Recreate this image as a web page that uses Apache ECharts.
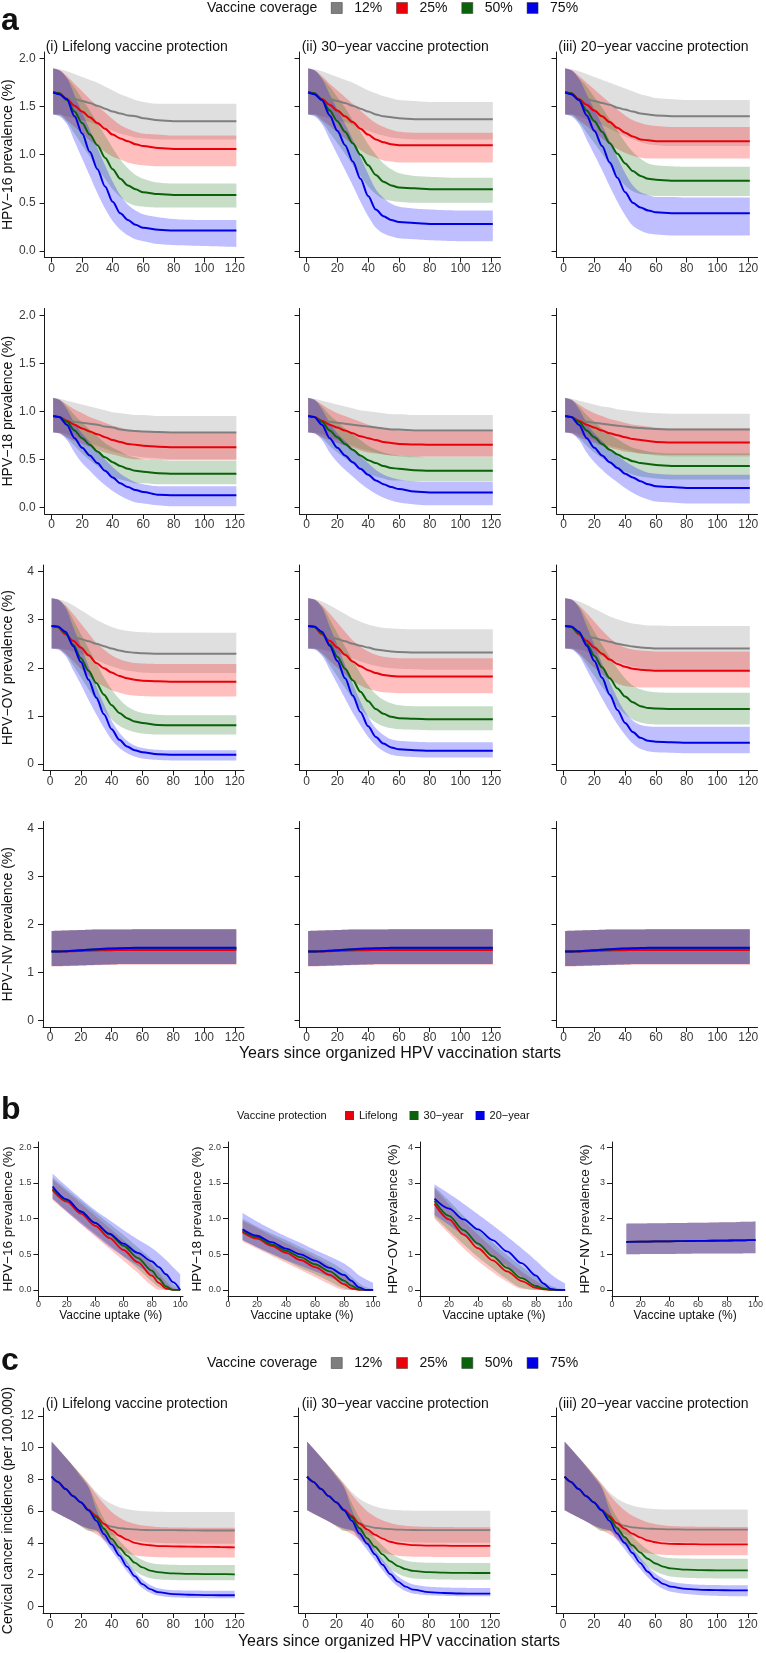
<!DOCTYPE html>
<html><head><meta charset="utf-8">
<script src="https://cdn.jsdelivr.net/npm/echarts@6/dist/echarts.min.js"></script>
<style>html,body{margin:0;padding:0;background:#fff}#c{width:766px;height:1653px}</style>
</head><body><div id="c"></div><script>
const FONT = "'Liberation Sans', Arial, Helvetica, sans-serif";
// ---------- categories / ticks ----------
const AX = [1,5,10,15,20,25,30,35,40,45,50,55,60,70,80,100,121];
const BX = [10,20,30,40,50,60,70,80,85,90,95,100];
const CX = [1,5,10,15,20,25,30,35,40,45,50,55,60,65,70,80,90,100,110,120];
const A_XTICKS = [0,20,40,60,80,100,120];
const B_XTICKS = [0,20,40,60,80,100];
const Y2_TICKS = [0,0.5,1,1.5,2];
const Y4_TICKS = [0,1,2,3,4];
const C_YTICKS = [0,2,4,6,8,10,12];
const COVERAGE = ['12%','25%','50%','75%'];
const PROTECTION = ['Lifelong','30\u2212year','20\u2212year'];
const PANEL_TITLES = ['(i) Lifelong vaccine protection','(ii) 30\u2212year vaccine protection','(iii) 20\u2212year vaccine protection'];
const ROW_TITLES = ['HPV\u221216 prevalence (%)','HPV\u221218 prevalence (%)','HPV\u2212OV prevalence (%)','HPV\u2212NV prevalence (%)'];

// ---------- HPV-16 (gray, red, green, blue) ----------
const hpv16_life_mid = [
 [1.65,1.63,1.60,1.58,1.56,1.54,1.51,1.48,1.45,1.43,1.41,1.40,1.38,1.36,1.35,1.35,1.35],
 [1.65,1.64,1.58,1.51,1.45,1.39,1.33,1.27,1.21,1.17,1.14,1.11,1.09,1.07,1.06,1.06,1.06],
 [1.65,1.64,1.57,1.45,1.33,1.21,1.10,0.97,0.85,0.75,0.68,0.64,0.61,0.59,0.58,0.58,0.58],
 [1.65,1.63,1.58,1.40,1.22,1.03,0.85,0.67,0.51,0.39,0.32,0.27,0.24,0.22,0.21,0.21,0.21]];
const hpv16_life_hi = [
 [1.90,1.89,1.87,1.84,1.81,1.78,1.75,1.71,1.67,1.63,1.60,1.57,1.55,1.53,1.53,1.53,1.53],
 [1.90,1.88,1.82,1.74,1.66,1.58,1.51,1.44,1.37,1.31,1.27,1.24,1.22,1.21,1.20,1.20,1.20],
 [1.90,1.88,1.80,1.70,1.58,1.46,1.33,1.20,1.07,0.95,0.86,0.79,0.75,0.71,0.70,0.70,0.70],
 [1.90,1.88,1.80,1.62,1.44,1.26,1.07,0.89,0.72,0.58,0.48,0.42,0.38,0.35,0.33,0.32,0.32]];
const hpv16_life_lo = [
 [1.42,1.42,1.40,1.38,1.36,1.34,1.31,1.28,1.25,1.22,1.20,1.18,1.17,1.16,1.16,1.16,1.16],
 [1.42,1.42,1.36,1.29,1.22,1.15,1.09,1.03,0.98,0.95,0.92,0.90,0.89,0.88,0.88,0.88,0.88],
 [1.42,1.41,1.34,1.22,1.10,0.98,0.86,0.75,0.64,0.56,0.50,0.47,0.46,0.45,0.45,0.45,0.45],
 [1.42,1.40,1.32,1.14,0.96,0.78,0.60,0.44,0.31,0.22,0.16,0.12,0.10,0.07,0.06,0.05,0.04]];
const hpv16_30_mid = [
 [1.65,1.63,1.60,1.58,1.56,1.54,1.51,1.48,1.45,1.42,1.40,1.39,1.38,1.37,1.37,1.37,1.37],
 [1.65,1.64,1.58,1.52,1.46,1.40,1.34,1.27,1.21,1.16,1.13,1.11,1.10,1.10,1.10,1.10,1.10],
 [1.65,1.64,1.57,1.46,1.35,1.24,1.12,1.00,0.89,0.79,0.72,0.68,0.66,0.65,0.64,0.64,0.64],
 [1.65,1.63,1.57,1.41,1.25,1.10,0.93,0.75,0.57,0.43,0.36,0.32,0.30,0.29,0.28,0.28,0.28]];
const hpv16_30_hi = [
 [1.90,1.89,1.87,1.84,1.81,1.78,1.75,1.71,1.67,1.64,1.61,1.59,1.57,1.56,1.55,1.55,1.55],
 [1.90,1.88,1.82,1.74,1.67,1.60,1.53,1.46,1.39,1.33,1.29,1.26,1.24,1.23,1.23,1.23,1.23],
 [1.90,1.88,1.80,1.71,1.60,1.49,1.36,1.24,1.11,1.00,0.91,0.85,0.81,0.78,0.77,0.76,0.76],
 [1.90,1.88,1.79,1.63,1.47,1.32,1.16,0.98,0.80,0.64,0.55,0.49,0.46,0.44,0.43,0.42,0.42]];
const hpv16_30_lo = [
 [1.42,1.42,1.40,1.38,1.36,1.34,1.31,1.28,1.25,1.22,1.20,1.18,1.17,1.16,1.16,1.16,1.16],
 [1.42,1.42,1.36,1.30,1.23,1.17,1.11,1.05,1.00,0.97,0.94,0.93,0.92,0.92,0.92,0.92,0.92],
 [1.42,1.41,1.34,1.23,1.12,1.01,0.89,0.78,0.67,0.59,0.54,0.52,0.51,0.50,0.50,0.50,0.50],
 [1.42,1.40,1.32,1.16,1.00,0.84,0.68,0.51,0.36,0.24,0.18,0.15,0.13,0.12,0.11,0.10,0.10]];
const hpv16_20_mid = [
 [1.65,1.63,1.60,1.58,1.56,1.54,1.52,1.49,1.47,1.45,1.43,1.42,1.41,1.40,1.40,1.40,1.40],
 [1.65,1.64,1.58,1.52,1.46,1.40,1.34,1.28,1.23,1.19,1.16,1.15,1.14,1.14,1.14,1.14,1.14],
 [1.65,1.64,1.57,1.46,1.35,1.24,1.12,1.01,0.91,0.83,0.78,0.75,0.74,0.73,0.73,0.73,0.73],
 [1.65,1.63,1.57,1.41,1.25,1.09,0.92,0.76,0.61,0.50,0.45,0.42,0.40,0.39,0.39,0.39,0.39]];
const hpv16_20_hi = [
 [1.90,1.89,1.87,1.84,1.81,1.78,1.75,1.72,1.69,1.66,1.63,1.61,1.59,1.58,1.57,1.57,1.57],
 [1.90,1.88,1.82,1.75,1.68,1.61,1.54,1.47,1.41,1.36,1.33,1.31,1.30,1.29,1.29,1.29,1.29],
 [1.90,1.88,1.80,1.71,1.60,1.49,1.37,1.25,1.13,1.03,0.96,0.91,0.89,0.88,0.875,0.875,0.875],
 [1.90,1.88,1.79,1.63,1.47,1.31,1.14,0.97,0.81,0.68,0.61,0.58,0.56,0.56,0.555,0.555,0.555]];
const hpv16_20_lo = [
 [1.42,1.42,1.40,1.37,1.34,1.31,1.27,1.23,1.19,1.16,1.13,1.11,1.10,1.09,1.09,1.09,1.09],
 [1.42,1.42,1.36,1.30,1.23,1.17,1.11,1.06,1.02,0.99,0.97,0.96,0.96,0.96,0.96,0.96,0.96],
 [1.42,1.41,1.34,1.23,1.12,1.01,0.89,0.78,0.68,0.62,0.59,0.58,0.57,0.57,0.57,0.57,0.57],
 [1.42,1.40,1.32,1.16,1.00,0.84,0.67,0.51,0.37,0.26,0.21,0.18,0.17,0.16,0.16,0.16,0.16]];

// ---------- HPV-18 ----------
const hpv18_life_mid = [
 [0.95,0.94,0.91,0.89,0.88,0.87,0.86,0.84,0.83,0.81,0.80,0.795,0.79,0.785,0.78,0.78,0.78],
 [0.95,0.94,0.90,0.86,0.82,0.79,0.76,0.73,0.70,0.68,0.66,0.65,0.64,0.63,0.625,0.625,0.625],
 [0.95,0.94,0.89,0.80,0.72,0.65,0.58,0.52,0.47,0.43,0.40,0.38,0.37,0.355,0.35,0.35,0.35],
 [0.95,0.94,0.86,0.72,0.62,0.54,0.46,0.38,0.31,0.25,0.21,0.18,0.16,0.13,0.125,0.125,0.125]];
const hpv18_life_hi = [
 [1.14,1.13,1.11,1.09,1.07,1.05,1.03,1.01,0.99,0.98,0.97,0.96,0.96,0.95,0.95,0.95,0.95],
 [1.14,1.12,1.07,1.02,0.98,0.94,0.91,0.88,0.85,0.83,0.81,0.80,0.79,0.78,0.77,0.77,0.77],
 [1.14,1.12,1.05,0.96,0.88,0.81,0.74,0.67,0.62,0.58,0.54,0.52,0.50,0.49,0.485,0.485,0.485],
 [1.14,1.12,1.02,0.88,0.77,0.68,0.59,0.50,0.42,0.35,0.30,0.26,0.24,0.22,0.22,0.22,0.22]];
const hpv18_life_lo = [
 [0.78,0.78,0.76,0.73,0.70,0.67,0.64,0.61,0.58,0.56,0.54,0.53,0.52,0.51,0.50,0.50,0.50],
 [0.78,0.77,0.73,0.69,0.66,0.63,0.60,0.57,0.55,0.53,0.51,0.50,0.50,0.49,0.49,0.49,0.49],
 [0.78,0.77,0.72,0.64,0.56,0.49,0.43,0.37,0.32,0.29,0.27,0.25,0.25,0.24,0.24,0.24,0.24],
 [0.78,0.77,0.70,0.57,0.46,0.38,0.30,0.23,0.17,0.12,0.08,0.05,0.04,0.02,0.01,0.01,0.01]];
const hpv18_30_mid = [
 [0.95,0.94,0.91,0.89,0.88,0.87,0.86,0.85,0.84,0.83,0.82,0.81,0.81,0.80,0.80,0.80,0.80],
 [0.95,0.94,0.90,0.86,0.83,0.80,0.77,0.74,0.72,0.70,0.68,0.67,0.66,0.655,0.65,0.65,0.65],
 [0.95,0.94,0.89,0.80,0.73,0.66,0.60,0.54,0.49,0.46,0.43,0.41,0.40,0.385,0.38,0.38,0.38],
 [0.95,0.94,0.86,0.72,0.62,0.54,0.47,0.40,0.34,0.28,0.24,0.21,0.19,0.165,0.155,0.155,0.155]];
const hpv18_30_hi = [
 [1.14,1.13,1.11,1.09,1.07,1.05,1.03,1.01,1.00,0.99,0.98,0.97,0.97,0.96,0.96,0.96,0.96],
 [1.14,1.12,1.07,1.02,0.98,0.95,0.92,0.89,0.86,0.84,0.82,0.81,0.80,0.79,0.79,0.79,0.79],
 [1.14,1.12,1.05,0.96,0.89,0.82,0.76,0.70,0.64,0.60,0.57,0.55,0.54,0.53,0.52,0.52,0.52],
 [1.14,1.12,1.02,0.88,0.77,0.69,0.61,0.53,0.46,0.39,0.34,0.31,0.29,0.27,0.265,0.265,0.265]];
const hpv18_30_lo = [
 [0.78,0.78,0.76,0.73,0.70,0.67,0.64,0.61,0.59,0.57,0.55,0.54,0.53,0.52,0.52,0.52,0.52],
 [0.78,0.77,0.73,0.70,0.67,0.64,0.62,0.59,0.57,0.56,0.55,0.54,0.54,0.53,0.53,0.53,0.53],
 [0.78,0.77,0.72,0.64,0.57,0.51,0.45,0.40,0.35,0.32,0.30,0.28,0.28,0.27,0.27,0.27,0.27],
 [0.78,0.77,0.70,0.57,0.47,0.39,0.32,0.25,0.19,0.14,0.10,0.07,0.05,0.03,0.02,0.02,0.02]];
const hpv18_20_mid = [
 [0.95,0.94,0.91,0.89,0.88,0.87,0.86,0.85,0.84,0.83,0.825,0.82,0.815,0.81,0.81,0.81,0.81],
 [0.95,0.94,0.90,0.86,0.83,0.80,0.77,0.75,0.73,0.71,0.70,0.69,0.68,0.675,0.675,0.675,0.675],
 [0.95,0.94,0.89,0.80,0.73,0.66,0.60,0.55,0.51,0.48,0.46,0.45,0.44,0.43,0.43,0.43,0.43],
 [0.95,0.94,0.86,0.72,0.62,0.54,0.47,0.41,0.35,0.31,0.27,0.24,0.22,0.21,0.20,0.20,0.20]];
const hpv18_20_hi = [
 [1.14,1.13,1.11,1.09,1.07,1.05,1.04,1.02,1.01,1.00,0.99,0.985,0.98,0.975,0.975,0.975,0.975],
 [1.14,1.12,1.07,1.02,0.98,0.95,0.92,0.90,0.88,0.86,0.85,0.84,0.83,0.82,0.82,0.82,0.82],
 [1.14,1.12,1.05,0.96,0.89,0.82,0.76,0.71,0.66,0.62,0.60,0.58,0.57,0.56,0.56,0.56,0.56],
 [1.14,1.12,1.02,0.88,0.77,0.69,0.61,0.54,0.48,0.43,0.39,0.36,0.35,0.34,0.34,0.34,0.34]];
const hpv18_20_lo = [
 [0.78,0.78,0.76,0.73,0.70,0.67,0.64,0.62,0.60,0.58,0.56,0.55,0.54,0.53,0.53,0.53,0.53],
 [0.78,0.77,0.73,0.70,0.67,0.64,0.62,0.60,0.58,0.57,0.56,0.555,0.55,0.545,0.545,0.545,0.545],
 [0.78,0.77,0.72,0.64,0.57,0.51,0.46,0.41,0.37,0.34,0.32,0.31,0.30,0.29,0.29,0.29,0.29],
 [0.78,0.77,0.70,0.57,0.47,0.39,0.32,0.26,0.20,0.15,0.11,0.08,0.06,0.05,0.04,0.04,0.04]];

// ---------- HPV-OV ----------
const hpvov_life_mid = [
 [2.87,2.82,2.72,2.65,2.60,2.55,2.50,2.45,2.40,2.36,2.33,2.31,2.30,2.29,2.29,2.29,2.29],
 [2.87,2.85,2.70,2.56,2.42,2.26,2.10,1.99,1.90,1.83,1.78,1.75,1.73,1.72,1.71,1.71,1.71],
 [2.87,2.85,2.72,2.48,2.20,1.94,1.68,1.44,1.22,1.06,0.95,0.88,0.85,0.81,0.80,0.80,0.80],
 [2.87,2.86,2.75,2.45,2.12,1.75,1.38,1.03,0.72,0.50,0.36,0.28,0.24,0.20,0.19,0.19,0.19]];
const hpvov_life_hi = [
 [3.45,3.43,3.38,3.30,3.20,3.10,3.00,2.92,2.85,2.80,2.77,2.75,2.74,2.73,2.73,2.73,2.73],
 [3.45,3.42,3.30,3.12,2.92,2.72,2.52,2.38,2.26,2.18,2.13,2.10,2.09,2.08,2.08,2.08,2.08],
 [3.45,3.42,3.28,3.00,2.70,2.40,2.10,1.80,1.55,1.35,1.20,1.11,1.06,1.02,1.01,1.01,1.01],
 [3.45,3.42,3.25,2.85,2.45,2.03,1.62,1.24,0.90,0.65,0.48,0.38,0.33,0.29,0.28,0.28,0.28]];
const hpvov_life_lo = [
 [2.40,2.40,2.38,2.34,2.29,2.23,2.16,2.09,2.03,1.98,1.94,1.92,1.90,1.89,1.89,1.89,1.89],
 [2.40,2.40,2.30,2.14,1.98,1.84,1.70,1.61,1.53,1.48,1.44,1.42,1.41,1.40,1.40,1.40,1.40],
 [2.40,2.39,2.28,2.05,1.80,1.55,1.32,1.10,0.92,0.79,0.71,0.66,0.63,0.61,0.61,0.61,0.61],
 [2.40,2.38,2.25,1.95,1.65,1.33,1.03,0.75,0.50,0.33,0.22,0.15,0.11,0.08,0.07,0.07,0.07]];
const hpvov_30_mid = [
 [2.87,2.82,2.72,2.65,2.60,2.55,2.50,2.46,2.42,2.38,2.36,2.34,2.33,2.32,2.32,2.32,2.32],
 [2.87,2.85,2.70,2.56,2.42,2.27,2.13,2.03,1.95,1.89,1.85,1.83,1.82,1.82,1.82,1.82,1.82],
 [2.87,2.85,2.72,2.49,2.23,1.98,1.74,1.50,1.30,1.14,1.04,0.98,0.95,0.94,0.93,0.93,0.93],
 [2.87,2.86,2.75,2.46,2.14,1.78,1.42,1.08,0.78,0.56,0.42,0.34,0.30,0.28,0.27,0.27,0.27]];
const hpvov_30_hi = [
 [3.45,3.43,3.38,3.30,3.21,3.12,3.03,2.96,2.90,2.86,2.83,2.82,2.81,2.80,2.80,2.80,2.80],
 [3.45,3.42,3.30,3.13,2.94,2.75,2.57,2.44,2.34,2.27,2.23,2.21,2.20,2.20,2.20,2.20,2.20],
 [3.45,3.42,3.28,3.01,2.72,2.44,2.16,1.88,1.64,1.45,1.33,1.26,1.22,1.20,1.20,1.20,1.20],
 [3.45,3.42,3.25,2.86,2.47,2.06,1.67,1.30,0.98,0.74,0.60,0.51,0.48,0.46,0.45,0.45,0.45]];
const hpvov_30_lo = [
 [2.40,2.40,2.38,2.34,2.30,2.25,2.19,2.13,2.08,2.04,2.01,1.99,1.98,1.97,1.96,1.96,1.96],
 [2.40,2.40,2.30,2.15,2.00,1.86,1.73,1.63,1.56,1.52,1.49,1.48,1.47,1.47,1.47,1.47,1.47],
 [2.40,2.39,2.28,2.06,1.82,1.58,1.36,1.15,0.98,0.86,0.78,0.74,0.72,0.71,0.70,0.70,0.70],
 [2.40,2.38,2.25,1.96,1.66,1.36,1.06,0.80,0.56,0.38,0.26,0.19,0.16,0.14,0.13,0.13,0.13]];
const hpvov_20_mid = [
 [2.87,2.82,2.72,2.66,2.62,2.58,2.54,2.50,2.47,2.44,2.42,2.41,2.40,2.40,2.40,2.40,2.40],
 [2.87,2.85,2.70,2.56,2.42,2.29,2.17,2.08,2.02,1.98,1.96,1.95,1.94,1.94,1.94,1.94,1.94],
 [2.87,2.85,2.72,2.50,2.25,2.01,1.78,1.57,1.40,1.28,1.20,1.16,1.15,1.14,1.14,1.14,1.14],
 [2.87,2.86,2.75,2.46,2.14,1.79,1.44,1.12,0.85,0.66,0.54,0.48,0.46,0.45,0.44,0.44,0.44]];
const hpvov_20_hi = [
 [3.45,3.43,3.38,3.31,3.23,3.15,3.07,3.01,2.96,2.92,2.90,2.88,2.88,2.87,2.87,2.87,2.87],
 [3.45,3.42,3.30,3.14,2.96,2.78,2.62,2.50,2.42,2.38,2.36,2.35,2.34,2.34,2.34,2.34,2.34],
 [3.45,3.42,3.28,3.02,2.75,2.48,2.22,1.98,1.78,1.63,1.55,1.51,1.49,1.48,1.48,1.48,1.48],
 [3.45,3.42,3.25,2.87,2.48,2.09,1.71,1.36,1.08,0.90,0.81,0.78,0.77,0.77,0.77,0.77,0.77]];
const hpvov_20_lo = [
 [2.40,2.40,2.38,2.34,2.29,2.24,2.18,2.12,2.07,2.02,1.99,1.97,1.96,1.95,1.95,1.95,1.95],
 [2.40,2.40,2.30,2.15,2.00,1.87,1.75,1.67,1.62,1.60,1.59,1.59,1.59,1.59,1.59,1.59,1.59],
 [2.40,2.39,2.28,2.06,1.83,1.60,1.39,1.19,1.03,0.92,0.86,0.83,0.82,0.82,0.82,0.82,0.82],
 [2.40,2.38,2.25,1.96,1.66,1.36,1.08,0.82,0.60,0.42,0.31,0.26,0.24,0.23,0.22,0.22,0.22]];

// ---------- HPV-NV (same in the three panels) ----------
const hpvnv_mid = [
 [1.43,1.43,1.44,1.45,1.46,1.47,1.475,1.48,1.485,1.49,1.49,1.49,1.49,1.49,1.49,1.49,1.49],
 [1.43,1.43,1.435,1.44,1.445,1.45,1.455,1.46,1.46,1.465,1.465,1.465,1.465,1.465,1.465,1.465,1.465],
 [1.43,1.43,1.44,1.45,1.46,1.47,1.475,1.48,1.49,1.495,1.50,1.50,1.50,1.50,1.50,1.50,1.50],
 [1.43,1.43,1.44,1.45,1.46,1.47,1.48,1.49,1.495,1.50,1.505,1.51,1.51,1.51,1.51,1.51,1.51]];
const hpvnv_hi = [
 [1.86,1.865,1.87,1.875,1.88,1.885,1.89,1.89,1.89,1.89,1.89,1.895,1.895,1.895,1.895,1.895,1.895],
 [1.86,1.865,1.87,1.875,1.88,1.885,1.89,1.89,1.89,1.89,1.89,1.895,1.895,1.895,1.895,1.895,1.895],
 [1.86,1.865,1.87,1.875,1.88,1.885,1.89,1.89,1.89,1.89,1.89,1.895,1.895,1.895,1.895,1.895,1.895],
 [1.86,1.865,1.87,1.875,1.88,1.885,1.89,1.89,1.89,1.89,1.89,1.895,1.895,1.895,1.895,1.895,1.895]];
const hpvnv_lo = [
 [1.13,1.13,1.135,1.14,1.145,1.15,1.155,1.16,1.165,1.17,1.17,1.17,1.17,1.17,1.17,1.17,1.17],
 [1.12,1.12,1.125,1.13,1.135,1.14,1.145,1.15,1.15,1.155,1.155,1.155,1.155,1.155,1.155,1.155,1.155],
 [1.13,1.13,1.135,1.14,1.145,1.15,1.155,1.16,1.165,1.17,1.17,1.17,1.17,1.17,1.17,1.17,1.17],
 [1.13,1.13,1.135,1.14,1.145,1.15,1.155,1.16,1.165,1.17,1.17,1.17,1.17,1.17,1.17,1.17,1.17]];

// ---------- section b (Lifelong, 30-year, 20-year) vs uptake ----------
const b16_mid = [
 [1.40,1.24,1.07,0.90,0.73,0.56,0.39,0.20,0.10,0.02,0,0],
 [1.42,1.26,1.10,0.94,0.78,0.62,0.45,0.27,0.16,0.05,0,0],
 [1.45,1.27,1.10,0.94,0.79,0.65,0.52,0.40,0.32,0.22,0.11,0]];
const b16_hi = [
 [1.55,1.38,1.21,1.04,0.87,0.70,0.53,0.35,0.24,0.12,0.03,0],
 [1.58,1.41,1.25,1.09,0.93,0.77,0.60,0.43,0.33,0.21,0.08,0.02],
 [1.63,1.45,1.28,1.12,0.98,0.84,0.71,0.59,0.51,0.42,0.32,0.22]];
const b16_lo = [
 [1.26,1.09,0.92,0.75,0.58,0.41,0.24,0.06,0,0,0,0],
 [1.28,1.11,0.95,0.79,0.63,0.47,0.30,0.12,0.04,0,0,0],
 [1.28,1.10,0.93,0.77,0.61,0.47,0.34,0.21,0.13,0.04,0,0]];
const b18_mid = [
 [0.81,0.72,0.62,0.52,0.42,0.32,0.21,0.08,0.02,0,0,0],
 [0.83,0.74,0.64,0.55,0.46,0.36,0.26,0.13,0.06,0.01,0,0],
 [0.85,0.76,0.67,0.58,0.50,0.41,0.31,0.21,0.13,0.04,0,0]];
const b18_hi = [
 [0.97,0.87,0.76,0.66,0.56,0.46,0.34,0.20,0.12,0.04,0,0],
 [1.00,0.89,0.79,0.70,0.60,0.50,0.40,0.27,0.19,0.10,0.04,0.01],
 [1.08,0.96,0.85,0.75,0.66,0.56,0.47,0.37,0.30,0.21,0.15,0.10]];
const b18_lo = [
 [0.68,0.58,0.48,0.38,0.28,0.18,0.08,0,0,0,0,0],
 [0.70,0.60,0.50,0.41,0.31,0.22,0.12,0.02,0,0,0,0],
 [0.70,0.60,0.51,0.42,0.34,0.26,0.18,0.08,0.02,0,0,0]];
const bov_mid = [
 [2.42,1.98,1.55,1.17,0.83,0.52,0.25,0.06,0.02,0,0,0],
 [2.50,2.08,1.68,1.30,0.95,0.62,0.33,0.11,0.04,0,0,0],
 [2.56,2.28,1.98,1.70,1.40,1.08,0.75,0.40,0.18,0.03,0,0]];
const bov_hi = [
 [2.85,2.40,1.95,1.55,1.18,0.84,0.52,0.25,0.13,0.04,0,0],
 [2.90,2.50,2.08,1.70,1.33,0.98,0.66,0.36,0.23,0.12,0.05,0.02],
 [2.96,2.70,2.42,2.12,1.82,1.50,1.17,0.82,0.63,0.45,0.30,0.18]];
const bov_lo = [
 [2.00,1.58,1.17,0.81,0.50,0.23,0.03,0,0,0,0,0],
 [2.05,1.66,1.28,0.92,0.60,0.30,0.06,0,0,0,0,0],
 [2.10,1.82,1.53,1.24,0.96,0.66,0.36,0.06,0,0,0,0]];
const bnv_mid = [
 [1.35,1.355,1.36,1.365,1.37,1.375,1.38,1.385,1.39,1.39,1.395,1.40],
 [1.35,1.355,1.36,1.365,1.37,1.375,1.38,1.385,1.39,1.39,1.395,1.40],
 [1.35,1.355,1.36,1.365,1.37,1.375,1.38,1.385,1.39,1.39,1.395,1.40]];
const bnv_hi = [
 [1.86,1.865,1.87,1.875,1.88,1.885,1.89,1.90,1.90,1.91,1.91,1.92],
 [1.86,1.865,1.87,1.875,1.88,1.885,1.89,1.90,1.90,1.91,1.91,1.92],
 [1.86,1.865,1.87,1.875,1.88,1.885,1.89,1.90,1.90,1.91,1.91,1.92]];
const bnv_lo = [
 [1.00,1.005,1.01,1.01,1.015,1.02,1.02,1.02,1.025,1.025,1.03,1.03],
 [1.00,1.005,1.01,1.01,1.015,1.02,1.02,1.02,1.025,1.025,1.03,1.03],
 [1.00,1.005,1.01,1.01,1.015,1.02,1.02,1.02,1.025,1.025,1.03,1.03]];

// ---------- section c: cervical cancer incidence ----------
const cc_life_mid = [
 [8.17,7.85,7.40,6.95,6.55,6.05,5.55,5.20,5.02,4.93,4.88,4.85,4.82,4.80,4.80,4.80,4.79,4.78,4.78,4.78],
 [8.17,7.85,7.40,6.95,6.55,6.10,5.70,5.20,4.80,4.45,4.20,4.00,3.90,3.85,3.80,3.78,3.76,3.75,3.74,3.72],
 [8.17,7.85,7.40,6.95,6.55,6.05,5.60,4.90,4.25,3.70,3.20,2.75,2.45,2.25,2.15,2.08,2.05,2.03,2.03,2.02],
 [8.17,7.85,7.40,6.95,6.55,6.05,5.40,4.55,3.90,3.20,2.50,1.90,1.40,1.08,0.90,0.77,0.73,0.71,0.70,0.70]];
const cc_life_hi = [
 [10.38,9.95,9.40,8.85,8.30,7.75,7.20,6.75,6.45,6.25,6.12,6.05,6.00,5.98,5.96,5.95,5.95,5.95,5.95,5.95],
 [10.38,9.95,9.40,8.85,8.30,7.70,7.05,6.45,5.95,5.60,5.35,5.20,5.10,5.05,5.00,4.97,4.96,4.95,4.95,4.95],
 [10.38,9.95,9.40,8.85,8.25,7.55,6.50,5.50,4.75,4.15,3.65,3.20,2.92,2.74,2.66,2.62,2.60,2.60,2.60,2.60],
 [10.38,9.95,9.40,8.80,8.15,7.50,6.10,4.95,4.20,3.50,2.82,2.20,1.70,1.35,1.15,1.02,1.00,0.99,0.99,0.99]];
const cc_life_lo = [
 [6.06,5.85,5.60,5.35,5.10,4.92,4.80,4.65,4.50,4.38,4.25,4.15,4.08,4.03,4.00,3.97,3.96,3.95,3.95,3.95],
 [6.06,5.85,5.60,5.35,5.05,4.80,4.55,4.20,3.85,3.55,3.35,3.22,3.15,3.12,3.10,3.08,3.07,3.07,3.07,3.07],
 [6.06,5.85,5.60,5.35,5.05,4.75,4.72,4.30,3.70,3.15,2.65,2.22,1.95,1.78,1.70,1.66,1.64,1.64,1.64,1.64],
 [6.06,5.85,5.60,5.35,5.10,4.90,4.80,4.15,3.50,2.85,2.20,1.62,1.15,0.85,0.68,0.57,0.53,0.52,0.51,0.51]];
const cc_30_mid = [
 [8.17,7.85,7.40,6.95,6.55,6.05,5.55,5.22,5.05,4.95,4.90,4.87,4.84,4.82,4.81,4.80,4.80,4.80,4.80,4.80],
 [8.17,7.85,7.40,6.95,6.55,6.10,5.70,5.22,4.85,4.52,4.27,4.07,3.96,3.90,3.86,3.83,3.82,3.81,3.81,3.81],
 [8.17,7.85,7.40,6.95,6.55,6.05,5.60,4.92,4.30,3.76,3.28,2.84,2.54,2.34,2.23,2.15,2.12,2.11,2.10,2.10],
 [8.17,7.85,7.40,6.95,6.55,6.05,5.40,4.58,3.95,3.28,2.62,2.03,1.56,1.24,1.05,0.90,0.84,0.81,0.80,0.80]];
const cc_30_hi = [
 [10.38,9.95,9.40,8.85,8.30,7.75,7.20,6.78,6.50,6.30,6.17,6.10,6.06,6.04,6.03,6.02,6.02,6.02,6.02,6.02],
 [10.38,9.95,9.40,8.85,8.30,7.70,7.05,6.48,6.00,5.66,5.42,5.25,5.14,5.08,5.04,5.01,5.00,4.99,4.99,4.99],
 [10.38,9.95,9.40,8.85,8.25,7.55,6.50,5.58,4.88,4.32,3.83,3.38,3.08,2.89,2.80,2.75,2.74,2.73,2.73,2.73],
 [10.38,9.95,9.40,8.80,8.15,7.50,6.10,4.98,4.28,3.60,2.95,2.38,1.90,1.58,1.38,1.24,1.19,1.17,1.16,1.16]];
const cc_30_lo = [
 [6.06,5.85,5.60,5.35,5.10,4.92,4.80,4.66,4.52,4.40,4.28,4.18,4.11,4.06,4.03,4.01,4.00,4.00,4.00,4.00],
 [6.06,5.85,5.60,5.35,5.05,4.80,4.55,4.22,3.88,3.59,3.39,3.26,3.19,3.15,3.13,3.12,3.11,3.11,3.11,3.11],
 [6.06,5.85,5.60,5.35,5.05,4.75,4.75,4.38,3.80,3.28,2.80,2.36,2.06,1.86,1.76,1.71,1.69,1.68,1.68,1.68],
 [6.06,5.85,5.60,5.35,5.10,4.90,4.80,4.18,3.55,2.92,2.28,1.70,1.25,0.96,0.80,0.70,0.66,0.64,0.63,0.63]];
const cc_20_mid = [
 [8.17,7.85,7.40,6.95,6.55,6.05,5.55,5.24,5.08,4.98,4.93,4.90,4.88,4.86,4.85,4.84,4.84,4.84,4.84,4.84],
 [8.17,7.85,7.40,6.95,6.55,6.10,5.70,5.25,4.90,4.58,4.34,4.15,4.04,3.97,3.94,3.92,3.91,3.90,3.90,3.90],
 [8.17,7.85,7.40,6.95,6.55,6.05,5.60,4.95,4.36,3.85,3.40,3.00,2.70,2.50,2.39,2.31,2.28,2.27,2.27,2.27],
 [8.17,7.85,7.40,6.95,6.55,6.05,5.40,4.60,4.00,3.36,2.74,2.18,1.73,1.42,1.24,1.10,1.04,1.02,1.01,1.01]];
const cc_20_hi = [
 [10.38,9.95,9.40,8.85,8.30,7.75,7.20,6.80,6.53,6.35,6.24,6.17,6.13,6.11,6.10,6.10,6.10,6.10,6.10,6.10],
 [10.38,9.95,9.40,8.85,8.30,7.70,7.05,6.50,6.05,5.72,5.48,5.30,5.18,5.11,5.06,5.03,5.02,5.01,5.00,5.00],
 [10.38,9.95,9.40,8.85,8.25,7.55,6.50,5.60,4.95,4.42,3.96,3.56,3.27,3.10,3.04,3.01,3.00,3.00,3.00,3.00],
 [10.38,9.95,9.40,8.80,8.15,7.50,6.10,5.00,4.34,3.70,3.08,2.52,2.07,1.76,1.56,1.42,1.36,1.34,1.33,1.33]];
const cc_20_lo = [
 [6.06,5.85,5.60,5.35,5.10,4.92,4.80,4.67,4.54,4.43,4.32,4.22,4.14,4.09,4.05,4.02,4.01,4.00,4.00,4.00],
 [6.06,5.85,5.60,5.35,5.05,4.80,4.56,4.25,3.93,3.66,3.47,3.35,3.28,3.25,3.23,3.22,3.22,3.22,3.22,3.22],
 [6.06,5.85,5.60,5.35,5.05,4.75,4.75,4.40,3.85,3.36,2.90,2.50,2.20,2.00,1.88,1.80,1.77,1.76,1.75,1.75],
 [6.06,5.85,5.60,5.35,5.10,4.90,4.80,4.20,3.60,2.98,2.38,1.84,1.40,1.10,0.92,0.78,0.70,0.66,0.64,0.63]];

// ---------- styles ----------
const LINE4 = ['#7f7f7f','#e8000b','#0a620a','#0000e6'];
const FILL4 = ['rgba(128,128,128,0.25)','rgba(255,0,0,0.25)','rgba(0,100,0,0.22)','rgba(0,0,255,0.25)'];
const LINE3 = ['#e8000b','#0a620a','#0000e6'];
const FILL3 = ['rgba(255,0,0,0.22)','rgba(0,100,0,0.22)','rgba(0,0,255,0.25)'];
const AXC = '#1a1a1a', LBC = '#3a3a3a', TTC = '#111';

const aRows = [
 [[hpv16_life_mid,hpv16_life_lo,hpv16_life_hi],[hpv16_30_mid,hpv16_30_lo,hpv16_30_hi],[hpv16_20_mid,hpv16_20_lo,hpv16_20_hi]],
 [[hpv18_life_mid,hpv18_life_lo,hpv18_life_hi],[hpv18_30_mid,hpv18_30_lo,hpv18_30_hi],[hpv18_20_mid,hpv18_20_lo,hpv18_20_hi]],
 [[hpvov_life_mid,hpvov_life_lo,hpvov_life_hi],[hpvov_30_mid,hpvov_30_lo,hpvov_30_hi],[hpvov_20_mid,hpvov_20_lo,hpvov_20_hi]],
 [[hpvnv_mid,hpvnv_lo,hpvnv_hi],[hpvnv_mid,hpvnv_lo,hpvnv_hi],[hpvnv_mid,hpvnv_lo,hpvnv_hi]]];
const bPanels = [[b16_mid,b16_lo,b16_hi],[b18_mid,b18_lo,b18_hi],[bov_mid,bov_lo,bov_hi],[bnv_mid,bnv_lo,bnv_hi]];
const cPanels = [[cc_life_mid,cc_life_lo,cc_life_hi],[cc_30_mid,cc_30_lo,cc_30_hi],[cc_20_mid,cc_20_lo,cc_20_hi]];

// ---------- drawing helpers ----------
// monotone cubic (Fritsch-Carlson) through pixel points, sampled into a polyline
function monoSample(p){
  const n=p.length, d=[], h=[], m=new Array(n);
  for(let i=0;i<n-1;i++){ h[i]=p[i+1][0]-p[i][0]; d[i]=h[i]===0?0:(p[i+1][1]-p[i][1])/h[i]; }
  m[0]=d[0]; m[n-1]=d[n-2];
  for(let i=1;i<n-1;i++){
    if(d[i-1]*d[i]<=0) m[i]=0;
    else { const w1=2*h[i]+h[i-1], w2=h[i]+2*h[i-1]; m[i]=(w1+w2)/(w1/d[i-1]+w2/d[i]); }
  }
  const out=[p[0]];
  for(let i=0;i<n-1;i++){
    const x0=p[i][0],y0=p[i][1],x1=p[i+1][0],y1=p[i+1][1],hh=h[i];
    const c1=[x0+hh/3,y0+m[i]*hh/3], c2=[x1-hh/3,y1-m[i+1]*hh/3];
    const S=10;
    for(let s=1;s<=S;s++){
      const t=s/S, u=1-t;
      out.push([u*u*u*x0+3*u*u*t*c1[0]+3*u*t*t*c2[0]+t*t*t*x1, u*u*u*y0+3*u*u*t*c1[1]+3*u*t*t*c2[1]+t*t*t*y1]);
    }
  }
  return out;
}
const grids=[], xAxes=[], yAxes=[], series=[];
function pairs(xs, ys){ return xs.map((x,i)=>[x,ys[i]]); }
function bandSeries(gi, xs, lo, hi, fill, name){
  return {type:'custom',name,xAxisIndex:gi,yAxisIndex:gi,silent:true,z:1,clip:true,
    data:xs.map((x,i)=>[x,lo[i],hi[i]]), encode:{x:0,y:[1,2]},
    itemStyle:{color:fill},
    renderItem:function(params, api){
      if(params.dataIndex!==0) return null;
      const top=monoSample(xs.map((x,i)=>api.coord([x,hi[i]])));
      const bot=monoSample(xs.map((x,i)=>api.coord([x,lo[i]]))).reverse();
      return {type:'polygon',shape:{points:top.concat(bot)},style:{fill:fill,stroke:null}};
    }};
}
function lineSeries(gi, xs, ys, color, name, w){
  return {type:'line',name,xAxisIndex:gi,yAxisIndex:gi,data:pairs(xs,ys),symbol:'none',smooth:0.3,smoothMonotone:'x',lineStyle:{color,width:w},itemStyle:{color},silent:true,z:2};
}
function xAxis(gi, min, max, ticks, size, margin, name, nameGap, nameSize){
  return {gridIndex:gi,type:'value',min,max,splitLine:{show:false},
    axisLine:{show:true,onZero:false,lineStyle:{color:AXC,width:1}},
    axisTick:{show:true,length:5,customValues:ticks,lineStyle:{color:AXC}},
    axisLabel:{show:true,customValues:ticks,fontSize:size,color:LBC,fontFamily:FONT,margin},
    name:name||'',nameLocation:'middle',nameGap:nameGap||0,
    nameTextStyle:{fontSize:nameSize||14,color:TTC,fontFamily:FONT}};
}
function yAxis(gi, min, max, ticks, fmt, showLabel, size, margin, name, nameGap, nameSize){
  return {gridIndex:gi,type:'value',min,max,splitLine:{show:false},
    axisLine:{show:true,onZero:false,lineStyle:{color:AXC,width:1}},
    axisTick:{show:true,length:5,customValues:ticks,lineStyle:{color:AXC}},
    axisLabel:{show:showLabel,customValues:ticks,formatter:fmt,fontSize:size,color:LBC,fontFamily:FONT,margin},
    name:name||'',nameLocation:'middle',nameGap:nameGap||0,
    nameTextStyle:{fontSize:nameSize||14,color:TTC,fontFamily:FONT}};
}
const f1 = v=>Number(v).toFixed(1), f0 = v=>String(Math.round(v));

// ---- section a ----
const A_LEFT=[43,299.5,556.5];
for (let r=0;r<4;r++){
  for (let c=0;c<3;c++){
    const gi=grids.length;
    grids.push({left:A_LEFT[c],top:52+256.5*r,width:201,height:205.5});
    const isRow4Mid = (r===3 && c===1);
    xAxes.push(xAxis(gi,-4.6,126,A_XTICKS,12,5,isRow4Mid?'Years since organized HPV vaccination starts':'',19,16));
    const big = r>=2;
    yAxes.push(yAxis(gi, big?-0.14:-0.07, big?4.14:2.07, big?Y4_TICKS:Y2_TICKS, big?f0:f1, c===0, 12, 9, c===0?ROW_TITLES[r]:'', 28, 14));
    const [mid,lo,hi]=aRows[r][c];
    for (let k=0;k<4;k++) series.push(bandSeries(gi,AX,lo[k],hi[k],FILL4[k],COVERAGE[k]));
    for (let k=0;k<4;k++) series.push(lineSeries(gi,AX,mid[k],LINE4[k],COVERAGE[k],2));
  }
}
// ---- section b ----
const B_LEFT=[35,228,420,612];
const B_TITLES=['HPV\u221216 prevalence (%)','HPV\u221218 prevalence (%)','HPV\u2212OV prevalence (%)','HPV\u2212NV prevalence (%)'];
for (let p=0;p<4;p++){
  const gi=grids.length;
  grids.push({left:B_LEFT[p],top:1142,width:148,height:154});
  xAxes.push(xAxis(gi,0,102,B_XTICKS,9,4,'Vaccine uptake (%)',13,12));
  const big = p>=2;
  yAxes.push(yAxis(gi, big?-0.17:-0.085, big?4.15:2.075, big?Y4_TICKS:Y2_TICKS, big?f0:f1, true, 9, 7, B_TITLES[p], 20, 13.5));
  const [mid,lo,hi]=bPanels[p];
  for (let k=0;k<3;k++){
    series.push(bandSeries(gi,BX,lo[k],hi[k],FILL3[k],PROTECTION[k]));
    series.push(lineSeries(gi,BX,mid[k],LINE3[k],PROTECTION[k],1.8));
  }
}
// ---- section c ----
const C_LEFT=[43,298.5,556];
for (let p=0;p<3;p++){
  const gi=grids.length;
  grids.push({left:C_LEFT[p],top:1408,width:201,height:205});
  xAxes.push(xAxis(gi,-4.6,126,A_XTICKS,12,5.5,p===1?'Years since organized HPV vaccination starts':'',21,16));
  yAxes.push(yAxis(gi,-0.42,12.5,C_YTICKS,f0,p===0,12,9,p===0?'Cervical cancer incidence (per 100,000)':'',28,14));
  const [mid,lo,hi]=cPanels[p];
  for (let k=0;k<4;k++) series.push(bandSeries(gi,CX,lo[k],hi[k],FILL4[k],COVERAGE[k]));
  for (let k=0;k<4;k++) series.push(lineSeries(gi,CX,mid[k],LINE4[k],COVERAGE[k],1.8));
}

function legendCov(top){
  return {top,left:331,padding:0,orient:'horizontal',icon:'rect',itemWidth:11,itemHeight:11,itemGap:14,selectedMode:false,
    textStyle:{fontSize:14,color:TTC,fontFamily:FONT,padding:[0,0,0,7]},
    data:COVERAGE.map((n,k)=>({name:n,itemStyle:{color:LINE4[k],borderColor:'#333',borderWidth:0.5}}))};
}
const graphics=[];
function txt(x,y,text,font,align){ graphics.push({type:'text',x,y,silent:true,style:{text,font,fill:TTC,align:align||'left',verticalAlign:'middle'}}); }
txt(1,21,'a','bold 32px '+FONT);
txt(1,1110,'b','bold 32px '+FONT);
txt(1,1361,'c','bold 32px '+FONT);
txt(207,8,'Vaccine coverage','14px '+FONT);
txt(207,1363,'Vaccine coverage','14px '+FONT);
txt(237,1116,'Vaccine protection','11px '+FONT);
const TL=[45.7,301.7,558.3];
for (let c=0;c<3;c++){ txt(TL[c],47,PANEL_TITLES[c],'14px '+FONT); txt(TL[c],1404,PANEL_TITLES[c],'14px '+FONT); }

const chart = echarts.init(document.getElementById('c'),null,{renderer:'canvas'});
chart.setOption({
  animation:false,
  backgroundColor:'#fff',
  textStyle:{fontFamily:FONT},
  grid:grids, xAxis:xAxes, yAxis:yAxes, series,
  legend:[legendCov(1), legendCov(1356),
    {top:1110,left:345,padding:0,orient:'horizontal',icon:'rect',itemWidth:9,itemHeight:9,itemGap:12,selectedMode:false,
     textStyle:{fontSize:11,color:TTC,fontFamily:FONT},
     data:PROTECTION.map((n,k)=>({name:n,itemStyle:{color:LINE3[k]}}))}],
  graphic:graphics
});
</script></body></html>
